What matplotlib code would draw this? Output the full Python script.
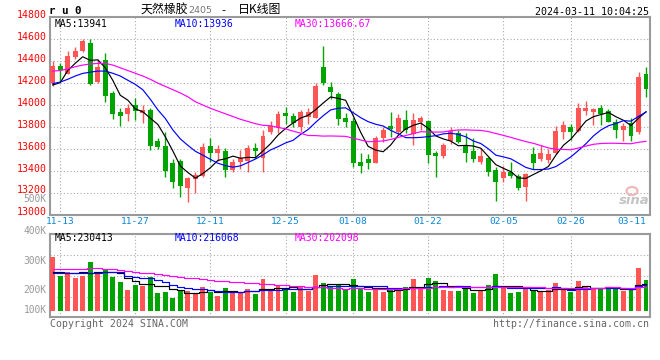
import numpy as np
import pandas as pd
import matplotlib
matplotlib.use('Agg')
import matplotlib.pyplot as plt
from matplotlib.patches import Ellipse

W, H = 660, 360

# daily bars of ru2405, 2023-11-10 .. 2024-03-11 (80 sessions)
open_ = [14198, 14356, 14285, 14441, 14496, 14563, 14213, 14410, 14106, 13936,
         13918, 14000, 13924, 13954, 13672, 13626, 13474, 13489, 13246, 13322,
         13352, 13626, 13565, 13580, 13407, 13483, 13492, 13605, 13513, 13751,
         13787, 13924, 13900, 13802, 13888, 13885, 14350, 14167, 14100, 13885,
         13857, 13483, 13504, 13474, 13702, 13808, 13751, 13863, 13735, 13848,
         13854, 13565, 13538, 13672, 13748, 13635, 13580, 13483, 13513, 13407,
         13337, 13386, 13355, 13255, 13550, 13504, 13498, 13559, 13757, 13796,
         13766, 13945, 13939, 13970, 13948, 13848, 13772, 13839, 13751, 14283]
high_ = [14401, 14385, 14490, 14530, 14600, 14605, 14420, 14478, 14127, 13970,
         14006, 14061, 14000, 13970, 13696, 13757, 13504, 13507, 13346, 13392,
         13656, 13702, 13635, 13605, 13507, 13589, 13635, 13656, 13772, 13854,
         13945, 13985, 13930, 13954, 13975, 14197, 14539, 14213, 14115, 13924,
         13878, 13559, 13550, 13720, 13802, 13939, 13918, 13954, 13924, 13900,
         13863, 13580, 13656, 13802, 13772, 13742, 13696, 13605, 13529, 13437,
         13443, 13477, 13367, 13377, 13614, 13635, 13598, 13812, 13854, 13824,
         14015, 14037, 13970, 14000, 13960, 13872, 13833, 13878, 14298, 14344]
low_ = [14174, 14215, 14280, 14420, 14480, 14180, 14205, 14030, 13872, 13812,
        13857, 13863, 13839, 13589, 13596, 13346, 13240, 13164, 13118, 13194,
        13340, 13483, 13489, 13346, 13392, 13416, 13386, 13513, 13392, 13733,
        13742, 13824, 13802, 13757, 13827, 13879, 14183, 14052, 13818, 13802,
        13437, 13383, 13416, 13468, 13659, 13711, 13736, 13742, 13635, 13772,
        13468, 13346, 13513, 13641, 13650, 13477, 13483, 13462, 13355, 13127,
        13301, 13331, 13224, 13127, 13413, 13492, 13474, 13550, 13690, 13681,
        13757, 13909, 13818, 13818, 13842, 13696, 13675, 13675, 13736, 14076]
close_ = [14356, 14322, 14447, 14495, 14584, 14192, 14345, 14085, 13921, 13903,
          13970, 13945, 13954, 13626, 13620, 13401, 13300, 13264, 13337, 13361,
          13614, 13565, 13599, 13407, 13483, 13519, 13605, 13584, 13717, 13808,
          13915, 13903, 13839, 13939, 13933, 14173, 14204, 14121, 13872, 13848,
          13474, 13446, 13474, 13702, 13772, 13781, 13885, 13772, 13863, 13878,
          13544, 13535, 13635, 13763, 13666, 13559, 13507, 13535, 13386, 13294,
          13392, 13355, 13246, 13367, 13468, 13565, 13550, 13763, 13818, 13751,
          13970, 13970, 13960, 13915, 13848, 13772, 13808, 13720, 14252, 14143]
volume = [459000, 297500, 325500, 280500, 297500, 410500, 317000, 346000, 289000, 244000,
          176000, 218500, 212500, 286500, 150500, 161500, 110500, 176000, 167500, 153000,
          201500, 161500, 125000, 193000, 161500, 161500, 184500, 144500, 269500, 167500,
          210000, 184500, 159000, 210000, 167500, 303500, 238000, 210000, 215000, 172500,
          269500, 181000, 159000, 181000, 159000, 176000, 187000, 201500, 269500, 181000,
          278000, 252500, 176000, 167500, 167500, 210000, 150500, 176000, 218500, 312000,
          210000, 150500, 159000, 181000, 167500, 161500, 176000, 235500, 181000, 159000,
          252500, 201500, 181000, 181000, 201500, 181000, 167500, 176000, 365500, 261000]

# moving-average values before the window is full (history not shown)
ma5_head = [14183, 14204, 14315, 14381]
ma10_head = [14195, 14210, 14235, 14265, 14289, 14300, 14310, 14310, 14290]
ma30_head = [14310, 14315, 14330, 14350, 14365, 14375, 14380, 14380, 14365, 14340,
             14315, 14290, 14265, 14235, 14200, 14170, 14140, 14110, 14075, 14030,
             14000, 13970, 13945, 13920, 13895, 13870, 13850, 13830, 13815]
vma5_head = [331500, 326000, 323000, 317000]
vma10_head = [317000, 317000, 318000, 318000, 320000, 322000, 324000, 325000, 326000]
vma30_head = [351000, 353000, 355000, 357000, 358000, 360000, 360000, 358000, 352000, 346000,
              338000, 331000, 324000, 317000, 310000, 303000, 296000, 289000, 282000, 275000,
              268000, 261000, 256000, 252000, 245000, 240000, 236000, 232000, 230000]

tick_labels = ['11-13', '11-27', '12-11', '12-25', '01-08', '01-22', '02-05', '02-26', '03-11']
tick_idx = [1, 11, 21, 31, 40, 50, 60, 69, 79]
price_ticks = [13000, 13200, 13400, 13600, 13800, 14000, 14200, 14400, 14600, 14800]
vol_tick_text = ['500K', '400K', '300K', '200K', '100K']

legend_price = ['MA5:13941', 'MA10:13936', 'MA30:13666.67']
legend_vol = ['MA5:230413', 'MA10:216068', 'MA30:202098']

RED = '#ff5555'
GREEN = '#00a400'
MA_COLORS = ['#000000', '#0000ff', '#ff00ff']
GRID = '#aaaaaa'
FRAME = '#9a9a9a'
MONO = 'DejaVu Sans Mono'


def rolling_with_head(values, n, head):
    out = pd.Series(values, dtype=float).rolling(n).mean().to_numpy()
    out[:n - 1] = head
    return out


def px(x, y):
    return x / W, 1 - y / H


o = np.array(open_, float)
c = np.array(close_, float)
hi = np.array(high_, float)
lo = np.array(low_, float)
vol = np.array(volume, float)
x = np.arange(len(c))
up = c >= o
colors = np.where(up, RED, GREEN)

ma_price = [rolling_with_head(c, 5, ma5_head),
            rolling_with_head(c, 10, ma10_head),
            rolling_with_head(c, 30, ma30_head)]
ma_vol = [rolling_with_head(vol, 5, vma5_head),
          rolling_with_head(vol, 10, vma10_head),
          rolling_with_head(vol, 30, vma30_head)]

fig = plt.figure(figsize=(W / 100, H / 100), dpi=100)
fig.patch.set_facecolor('white')

x0, x1 = 50, 650
ax = fig.add_axes([x0 / W, 1 - 214.6 / H, (x1 - x0) / W, (214.6 - 17.4) / H])
axv = fig.add_axes([x0 / W, 1 - 317.3 / H, (x1 - x0) / W, (317.3 - 234.3) / H])

xlim = (-0.36, 79.53)
bw = 0.66

# candles
ax.vlines(x, lo, hi, colors=colors, linewidth=1, zorder=2)
body = np.maximum(np.abs(c - o), 6)
ax.bar(x, body, bottom=np.minimum(o, c), width=bw, color=colors, linewidth=0, zorder=3)
for m, col in zip(ma_price, MA_COLORS):
    ax.plot(x, m, color=col, linewidth=0.85, zorder=4)

ax.set_xlim(*xlim)
ax.set_ylim(13000, 14800)
ax.set_yticks(price_ticks)
ax.set_yticklabels([])
# price labels sit a little above their grid lines in the source
for t in price_ticks:
    ax.annotate(str(t), xy=(0, t), xycoords=('axes fraction', 'data'), xytext=(-2.4, 1.6),
                textcoords='offset points', ha='right', va='center', color='#ff0000',
                family=MONO, fontsize=7.1, annotation_clip=False)
ax.set_xticks(tick_idx)
ax.set_xticklabels(tick_labels, color='#0a86d6', family=MONO, fontsize=6.8)
ax.get_xticklabels()[-1].set_ha('right')
ax.tick_params(length=0, pad=2.2)
ax.tick_params(axis='x', pad=2.0)
ax.grid(True, color=GRID, linestyle=(0, (1, 2)), linewidth=0.8)
ax.get_xgridlines()[-1].set_visible(False)

# volume
axv.bar(x, vol, width=bw, color=colors, linewidth=0, zorder=3)
for m, col in zip(ma_vol, MA_COLORS):
    axv.plot(x, m, color=col, linewidth=0.85, zorder=4, drawstyle='steps-mid')
axv.set_xlim(*xlim)
vlo, vhi = -56000, 649000
axv.set_ylim(vlo, vhi)
axv.set_yticks(np.linspace(vlo, vhi, 5)[1:4])
axv.set_yticklabels([])
axv.set_xticks(tick_idx[:-1])
axv.set_xticklabels([])
axv.tick_params(length=0)
axv.grid(True, color=GRID, linestyle=(0, (1, 2)), linewidth=0.8)

for a in (ax, axv):
    a.set_axisbelow(True)
    for s in a.spines.values():
        s.set_color(FRAME)
        s.set_linewidth(1.5)

# legends inside the panels
for label, col, lx in zip(legend_price, MA_COLORS, [55, 175, 295]):
    fig.text(*px(lx, 24), label, color=col, family=MONO, fontsize=7, va='center', ha='left')
for label, col, lx in zip(legend_vol, MA_COLORS, [55, 175, 295]):
    fig.text(*px(lx, 238.3), label, color=col, family=MONO, fontsize=7, va='center', ha='left')

# volume scale labels (as placed by the source)
for label, ly in zip(vol_tick_text, [199.5, 230.8, 261, 290.3, 310.3]):
    fig.text(*px(46.5, ly), label, color='#999999', family=MONO, fontsize=6.9, va='center', ha='right')

# header
fig.text(*px(49, 11.5), 'r u 0', family=MONO, weight='bold', fontsize=7.8, va='center', ha='left')
fig.text(*px(140.7, 10), '天然橡胶', family=['Noto Sans CJK SC', 'DejaVu Sans'], fontsize=8.6,
         va='center', ha='left')
fig.text(*px(188.5, 10.5), '2405', family='DejaVu Sans', color='#777777', fontsize=6.8,
         va='center', ha='left')
fig.text(*px(221, 10), '-', family='DejaVu Sans', fontsize=8, va='center', ha='left')
fig.text(*px(238, 10), '日K线图', family=['Noto Sans CJK SC', 'DejaVu Sans'], fontsize=8.6,
         va='center', ha='left')
fig.text(*px(649, 12.2), '2024-03-11 10:04:25', family=MONO, fontsize=7.2, va='center', ha='right')

# footer
fig.text(*px(50, 323.7), 'Copyright 2024 SINA.COM', family=MONO, color='#666666', fontsize=7.1,
         va='center', ha='left')
fig.text(*px(649, 323.7), 'http://finance.sina.com.cn', family=MONO, color='#666666', fontsize=7.1,
         va='center', ha='right')

# sina watermark
fig.add_artist(Ellipse(px(632, 191), 11 / W, 8 / H, fill=False, edgecolor='#f2b8b8',
                       linewidth=1.6, transform=fig.transFigure))
fig.text(*px(634, 200), 'sina', family='DejaVu Sans', style='italic', weight='bold',
         color='#c4c4c4', fontsize=9.5, va='center', ha='center')

fig.savefig('out.png', dpi=100, facecolor='white')
